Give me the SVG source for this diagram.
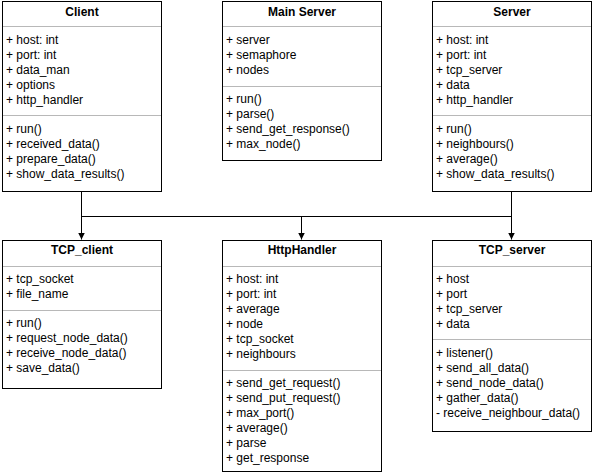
<svg xmlns="http://www.w3.org/2000/svg" width="593" height="476" viewBox="0 0 593 476">
<style>
.box{fill:#fff;stroke:#000;stroke-width:1}
.sep{stroke:#b8b8b8;stroke-width:1}
.t{font-family:"Liberation Sans",Arial,Helvetica,sans-serif;font-size:12px;fill:#000}
.h{font-family:"Liberation Sans",Arial,Helvetica,sans-serif;font-size:12px;font-weight:bold;fill:#000;text-anchor:middle}
.ln{fill:none;stroke:#000;stroke-width:1}
</style>
<defs>
<marker id="arr" markerWidth="8" markerHeight="7" refX="7" refY="3.5" orient="auto" markerUnits="userSpaceOnUse">
<path d="M0,0 L7,3.5 L0,7 z" fill="#000"/>
</marker>
</defs>
<rect width="593" height="476" fill="#fff"/>
<g id="connectors">
<path class="ln" d="M81.5,191.5 V239.5" marker-end="url(#arr)"/>
<path class="ln" d="M511.5,191.5 V239.5" marker-end="url(#arr)"/>
<path class="ln" d="M81.5,216.5 H511.5"/>
<path class="ln" d="M301.5,216.5 V239.5" marker-end="url(#arr)"/>
</g>
<g id="client">
<rect class="box" x="2.5" y="1.5" width="159" height="190"/>
<line class="sep" x1="3" y1="26.5" x2="161" y2="26.5"/>
<line class="sep" x1="3" y1="115.5" x2="161" y2="115.5"/>
<text class="h" x="82" y="16">Client</text>
<text class="t" x="6" y="44">+ host: int</text>
<text class="t" x="6" y="59">+ port: int</text>
<text class="t" x="6" y="74">+ data_man</text>
<text class="t" x="6" y="89">+ options</text>
<text class="t" x="6" y="104">+ http_handler</text>
<text class="t" x="6" y="133">+ run()</text>
<text class="t" x="6" y="148">+ received_data()</text>
<text class="t" x="6" y="163">+ prepare_data()</text>
<text class="t" x="6" y="178">+ show_data_results()</text>
</g>
<g id="main-server">
<rect class="box" x="222.5" y="1.5" width="159" height="159"/>
<line class="sep" x1="223" y1="26.5" x2="381" y2="26.5"/>
<line class="sep" x1="223" y1="86.5" x2="381" y2="86.5"/>
<text class="h" x="302" y="16">Main Server</text>
<text class="t" x="226" y="44">+ server</text>
<text class="t" x="226" y="59">+ semaphore</text>
<text class="t" x="226" y="74">+ nodes</text>
<text class="t" x="226" y="103">+ run()</text>
<text class="t" x="226" y="118">+ parse()</text>
<text class="t" x="226" y="133">+ send_get_response()</text>
<text class="t" x="226" y="148">+ max_node()</text>
</g>
<g id="server">
<rect class="box" x="432.5" y="1.5" width="159" height="190"/>
<line class="sep" x1="433" y1="26.5" x2="591" y2="26.5"/>
<line class="sep" x1="433" y1="115.5" x2="591" y2="115.5"/>
<text class="h" x="512" y="16">Server</text>
<text class="t" x="436" y="44">+ host: int</text>
<text class="t" x="436" y="59">+ port: int</text>
<text class="t" x="436" y="74">+ tcp_server</text>
<text class="t" x="436" y="89">+ data</text>
<text class="t" x="436" y="104">+ http_handler</text>
<text class="t" x="436" y="133">+ run()</text>
<text class="t" x="436" y="148">+ neighbours()</text>
<text class="t" x="436" y="163">+ average()</text>
<text class="t" x="436" y="178">+ show_data_results()</text>
</g>
<g id="tcp-client">
<rect class="box" x="2.5" y="240.5" width="159" height="148"/>
<line class="sep" x1="3" y1="266.5" x2="161" y2="266.5"/>
<line class="sep" x1="3" y1="310.5" x2="161" y2="310.5"/>
<text class="h" x="82" y="254">TCP_client</text>
<text class="t" x="6" y="283">+ tcp_socket</text>
<text class="t" x="6" y="298">+ file_name</text>
<text class="t" x="6" y="327">+ run()</text>
<text class="t" x="6" y="342">+ request_node_data()</text>
<text class="t" x="6" y="357">+ receive_node_data()</text>
<text class="t" x="6" y="372">+ save_data()</text>
</g>
<g id="http-handler">
<rect class="box" x="222.5" y="240.5" width="159" height="231"/>
<line class="sep" x1="223" y1="266.5" x2="381" y2="266.5"/>
<line class="sep" x1="223" y1="370.5" x2="381" y2="370.5"/>
<text class="h" x="302" y="254">HttpHandler</text>
<text class="t" x="226" y="283">+ host: int</text>
<text class="t" x="226" y="298">+ port: int</text>
<text class="t" x="226" y="313">+ average</text>
<text class="t" x="226" y="328">+ node</text>
<text class="t" x="226" y="343">+ tcp_socket</text>
<text class="t" x="226" y="358">+ neighbours</text>
<text class="t" x="226" y="387">+ send_get_request()</text>
<text class="t" x="226" y="402">+ send_put_request()</text>
<text class="t" x="226" y="417">+ max_port()</text>
<text class="t" x="226" y="432">+ average()</text>
<text class="t" x="226" y="447">+ parse</text>
<text class="t" x="226" y="462">+ get_response</text>
</g>
<g id="tcp-server">
<rect class="box" x="432.5" y="240.5" width="159" height="191"/>
<line class="sep" x1="433" y1="266.5" x2="591" y2="266.5"/>
<line class="sep" x1="433" y1="339.5" x2="591" y2="339.5"/>
<text class="h" x="512" y="254">TCP_server</text>
<text class="t" x="436" y="283">+ host</text>
<text class="t" x="436" y="298">+ port</text>
<text class="t" x="436" y="313">+ tcp_server</text>
<text class="t" x="436" y="328">+ data</text>
<text class="t" x="436" y="357">+ listener()</text>
<text class="t" x="436" y="372">+ send_all_data()</text>
<text class="t" x="436" y="387">+ send_node_data()</text>
<text class="t" x="436" y="402">+ gather_data()</text>
<text class="t" x="436" y="417">- receive_neighbour_data()</text>
</g>
</svg>
